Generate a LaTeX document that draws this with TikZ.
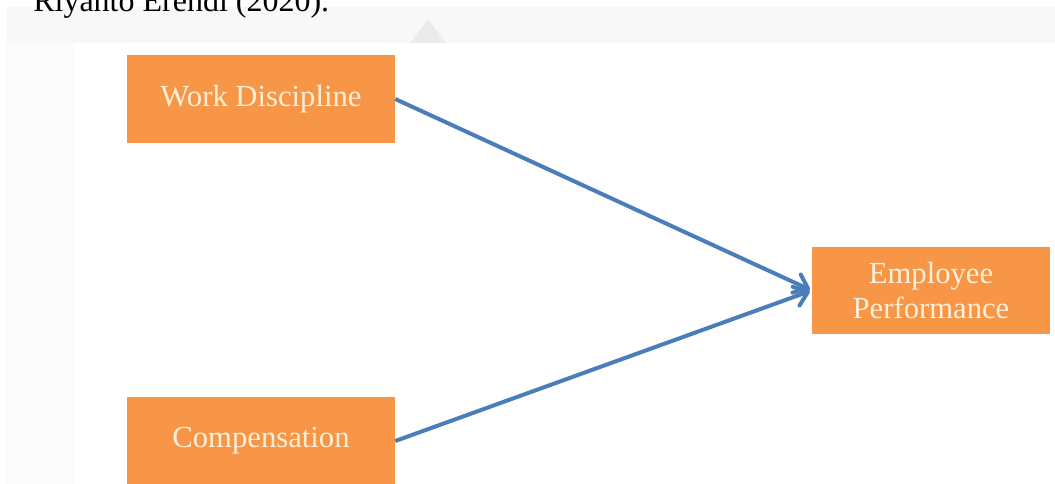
\documentclass[tikz,border=0pt]{standalone}
\usepackage{fontspec}
\setmainfont{Liberation Serif}
\usetikzlibrary{arrows.meta}
\definecolor{boxorange}{HTML}{F79646}
\definecolor{boxtext}{HTML}{FFEFD8}
\definecolor{linkblue}{HTML}{4A7EBB}
\definecolor{pagegray}{HTML}{F8F8F8}
\definecolor{margingray}{HTML}{FBFBFB}
\definecolor{markgray}{HTML}{EBEBEB}
\tikzset{
  x=0.75pt, y=-0.75pt,
  varbox/.style={fill=boxorange, draw=none, inner sep=0pt,
    text=boxtext, align=center,
    font=\fontsize{23}{26.5}\selectfont},
  link/.style={draw=linkblue, line width=3pt,
    -{Straight Barb[length=9.5pt,width=15pt,line join=round,line cap=round]},
    shorten >=1.5pt},
}
\begin{document}
\begin{tikzpicture}
\useasboundingbox (0,0) rectangle (1055,484);
\begin{scope}
\clip (0,0) rectangle (1055,484);
% page backdrop and white drawing canvas
\fill[white] (0,0) rectangle (1055,484);
\fill[margingray] (7,7) rectangle (75,484);
\fill[pagegray] (7,7) rectangle (1055,43);
\fill[white] (75,43) rectangle (1055,484);
\fill[markgray] (428,19) -- (446,43) -- (410,43) -- cycle;
% caption line running above the figure
\node[anchor=base west, inner sep=0pt, font=\fontsize{24}{28}\selectfont]
  (cap) at (33,12) {Riyanto Erendi (2020).};
% variables
\node[varbox, minimum width=201pt, minimum height=66pt] (wd) at (261,99) {Work Discipline};
\node[varbox, minimum width=201pt, minimum height=66pt] (comp) at (261,441) {Compensation};
\node[varbox, minimum width=178.5pt, minimum height=65.25pt] (ep) at (931,290.5) {Employee\\Performance};
% relations
\draw[link] (wd.east) -- (ep.west);
\draw[link] (comp.east) -- (ep.west);
\end{scope}
\end{tikzpicture}
\end{document}
